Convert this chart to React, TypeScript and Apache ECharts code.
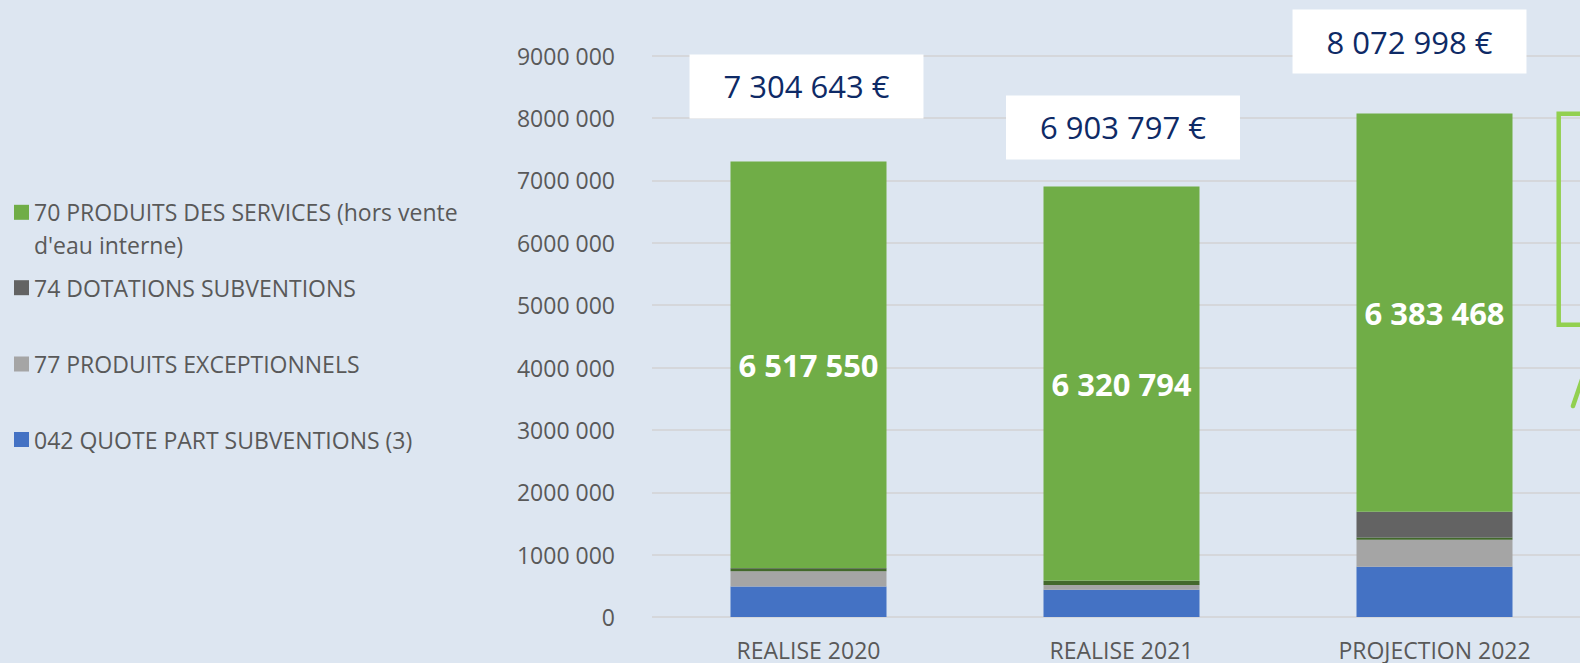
import React, { useEffect, useRef } from "react";
import * as echarts from "echarts";

// ---- data ----
const categories = ["REALISE 2020", "REALISE 2021", "PROJECTION 2022"];
const quotePart042 = [490000, 437000, 805000];
const produitsExc77 = [242000, 78000, 432000];
const autresProduits = [50093, 63003, 39000];
const dotations74 = [5000, 5000, 413530];
const produitsServices70 = [6517550, 6320794, 6383468];
const totals = [7304643, 6903797, 8072998];

const S70 = "70 PRODUITS DES SERVICES (hors vente d'eau interne)";
const S74 = "74 DOTATIONS SUBVENTIONS";
const S77 = "77 PRODUITS EXCEPTIONNELS";
const S042 = "042 QUOTE PART SUBVENTIONS (3)";
const SAUT = "Autres produits";

// ---- layout / style ----
const FONT = '"Open Sans", sans-serif';
const TEXT_GREY = "#595959";
const totalLabelOffsets: [number, number][] = [
  [-2, -75],
  [1.5, -59],
  [-25, -72],
];

const groupSpaces = (v: number) =>
  String(Math.round(v)).replace(/\B(?=(\d{3})+(?!\d))/g, " ");

const yTickLabel = (v: number) => {
  if (v === 0) return "0";
  const thousands = Math.floor(v / 1000);
  const rest = String(v % 1000).padStart(3, "0");
  return `${thousands} ${rest}`;
};

export default function App() {
  const ref = useRef<HTMLDivElement>(null);

  useEffect(() => {
    if (!ref.current) return;
    const chart = echarts.init(ref.current, undefined, { renderer: "svg" });

    const legendBase = {
      orient: "vertical",
      left: 14,
      padding: 0,
      itemWidth: 15,
      itemHeight: 15,
      icon: "rect",
      selectedMode: false,
      textStyle: {
        fontFamily: FONT,
        fontSize: 23,
        color: TEXT_GREY,
        lineHeight: 33,
      },
    };

    const barBase = {
      type: "bar",
      stack: "total",
      barWidth: 156,
    };

    chart.setOption({
      animation: false,
      backgroundColor: "#DDE6F1",
      textStyle: { fontFamily: FONT },
      grid: { left: 652, top: 55.7, width: 939, height: 562.3, containLabel: false },
      legend: [
        {
          ...legendBase,
          top: 162.8,
          data: [{ name: S70 }],
          // empty first line keeps the icon level with the first text line
          formatter: (name: string) => " \n" + name.replace("vente ", "vente\n"),
        },
        { ...legendBase, top: 271.2, data: [{ name: S74 }] },
        { ...legendBase, top: 347.5, data: [{ name: S77 }] },
        { ...legendBase, top: 423, data: [{ name: S042 }] },
      ],
      xAxis: {
        type: "category",
        data: categories,
        axisTick: { show: false },
        axisLine: { show: false },
        axisLabel: {
          color: TEXT_GREY,
          fontFamily: FONT,
          fontSize: 23,
          lineHeight: 26,
          margin: 20,
        },
      },
      yAxis: {
        type: "value",
        min: 0,
        max: 9000000,
        interval: 1000000,
        axisLine: { show: false },
        axisTick: { show: false },
        splitLine: { lineStyle: { color: "#D5D7DB", width: 2 } },
        axisLabel: {
          color: TEXT_GREY,
          fontFamily: FONT,
          fontSize: 23,
          margin: 37,
          formatter: yTickLabel,
        },
      },
      series: [
        { ...barBase, name: S042, data: quotePart042, itemStyle: { color: "#4472C4" } },
        { ...barBase, name: S77, data: produitsExc77, itemStyle: { color: "#A5A5A5" } },
        { ...barBase, name: SAUT, data: autresProduits, itemStyle: { color: "#43682B" } },
        { ...barBase, name: S74, data: dotations74, itemStyle: { color: "#636363" } },
        {
          ...barBase,
          name: S70,
          data: produitsServices70,
          itemStyle: { color: "#70AD47" },
          label: {
            show: true,
            position: "inside",
            color: "#FFFFFF",
            fontFamily: FONT,
            fontWeight: "bold",
            fontSize: 31,
            formatter: (p: any) => groupSpaces(p.value),
          },
        },
        {
          type: "scatter",
          name: "Total",
          symbolSize: 1,
          itemStyle: { color: "rgba(0,0,0,0)", opacity: 1 },
          z: 10,
          data: totals.map((v, i) => ({
            value: v,
            label: { offset: totalLabelOffsets[i] },
          })),
          label: {
            show: true,
            position: "inside",
            formatter: (p: any) => `${groupSpaces(p.value)} €`,
            color: "#0E2A66",
            opacity: 1,
            fontFamily: FONT,
            fontSize: 31,
            lineHeight: 36,
            backgroundColor: "#FFFFFF",
            padding: [14, 34, 14, 34],
          },
        },
      ],
      graphic: [
        {
          type: "rect",
          shape: { x: 1558.7, y: 113.7, width: 80, height: 211 },
          style: { fill: "none", stroke: "#92D050", lineWidth: 4.5 },
          z: 100,
        },
        {
          type: "line",
          shape: { x1: 1573, y1: 406, x2: 1588, y2: 362 },
          style: { stroke: "#92D050", lineWidth: 4.5, lineCap: "round" },
          z: 100,
        },
      ],
    });

    return () => chart.dispose();
  }, []);

  return (
    <div
      style={{
        position: "fixed",
        left: 0,
        top: 0,
        width: 1580,
        height: 663,
        overflow: "hidden",
      }}
    >
      <div ref={ref} style={{ width: 1600, height: 663 }} />
    </div>
  );
}
